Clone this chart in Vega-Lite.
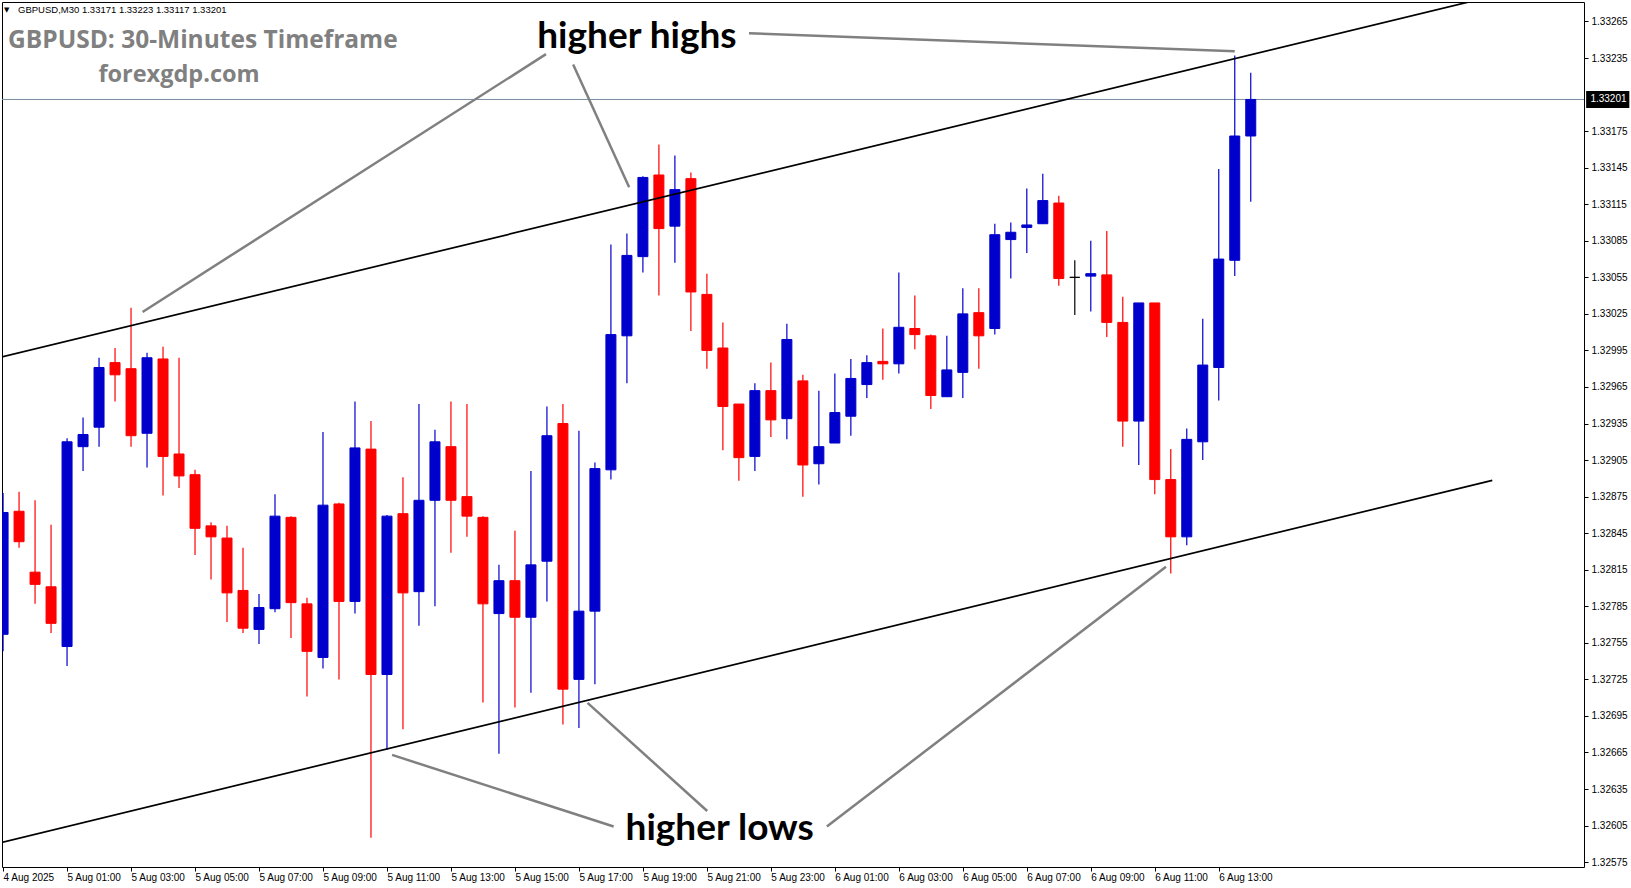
{
  "$schema": "https://vega.github.io/schema/vega-lite/v6.json",
  "width": 1582,
  "height": 865,
  "autosize": {"type": "none"},
  "padding": {"left": 2, "top": 2, "right": 47, "bottom": 21},
  "background": "#ffffff",
  "config": {
    "view": {"stroke": "#000000", "strokeWidth": 1},
    "axis": {"domain": false, "grid": false, "tickColor": "#000000", "labelColor": "#000000", "labelFont": "Liberation Sans", "labelFontSize": 10, "title": null, "labelOverlap": false},
    "axisY": {"labelOverlap": false, "labelBound": false, "labelFlush": false}
  },
  "resolve": {"scale": {"y": "shared"}, "axis": {"y": "independent"}},
  "datasets": {
    "candles": [
      {"t":"2025-08-04T23:00:00Z","o":1.32762,"h":1.32878,"l":1.32748,"c":1.32862},
      {"t":"2025-08-04T23:30:00Z","o":1.32863,"h":1.32879,"l":1.32833,"c":1.32838},
      {"t":"2025-08-05T00:00:00Z","o":1.32813,"h":1.32872,"l":1.32787,"c":1.32803},
      {"t":"2025-08-05T00:30:00Z","o":1.32801,"h":1.32852,"l":1.32763,"c":1.32771},
      {"t":"2025-08-05T01:00:00Z","o":1.32752,"h":1.32923,"l":1.32736,"c":1.32920},
      {"t":"2025-08-05T01:30:00Z","o":1.32916,"h":1.32940,"l":1.32896,"c":1.32926},
      {"t":"2025-08-05T02:00:00Z","o":1.32932,"h":1.32989,"l":1.32916,"c":1.32981},
      {"t":"2025-08-05T02:30:00Z","o":1.32985,"h":1.32997,"l":1.32953,"c":1.32975},
      {"t":"2025-08-05T03:00:00Z","o":1.32980,"h":1.33030,"l":1.32916,"c":1.32925},
      {"t":"2025-08-05T03:30:00Z","o":1.32927,"h":1.32993,"l":1.32899,"c":1.32989},
      {"t":"2025-08-05T04:00:00Z","o":1.32988,"h":1.32998,"l":1.32876,"c":1.32908},
      {"t":"2025-08-05T04:30:00Z","o":1.32910,"h":1.32989,"l":1.32882,"c":1.32892},
      {"t":"2025-08-05T05:00:00Z","o":1.32893,"h":1.32897,"l":1.32827,"c":1.32849},
      {"t":"2025-08-05T05:30:00Z","o":1.32851,"h":1.32854,"l":1.32807,"c":1.32842},
      {"t":"2025-08-05T06:00:00Z","o":1.32841,"h":1.32851,"l":1.32772,"c":1.32796},
      {"t":"2025-08-05T06:30:00Z","o":1.32798,"h":1.32833,"l":1.32763,"c":1.32767},
      {"t":"2025-08-05T07:00:00Z","o":1.32766,"h":1.32795,"l":1.32754,"c":1.32784},
      {"t":"2025-08-05T07:30:00Z","o":1.32783,"h":1.32877,"l":1.32780,"c":1.32859},
      {"t":"2025-08-05T08:00:00Z","o":1.32858,"h":1.32859,"l":1.32759,"c":1.32788},
      {"t":"2025-08-05T08:30:00Z","o":1.32787,"h":1.32792,"l":1.32711,"c":1.32748},
      {"t":"2025-08-05T09:00:00Z","o":1.32743,"h":1.32928,"l":1.32734,"c":1.32868},
      {"t":"2025-08-05T09:30:00Z","o":1.32869,"h":1.32870,"l":1.32725,"c":1.32789},
      {"t":"2025-08-05T10:00:00Z","o":1.32789,"h":1.32953,"l":1.32779,"c":1.32915},
      {"t":"2025-08-05T10:30:00Z","o":1.32914,"h":1.32937,"l":1.32595,"c":1.32729},
      {"t":"2025-08-05T11:00:00Z","o":1.32729,"h":1.32860,"l":1.32667,"c":1.32859},
      {"t":"2025-08-05T11:30:00Z","o":1.32861,"h":1.32891,"l":1.32684,"c":1.32796},
      {"t":"2025-08-05T12:00:00Z","o":1.32797,"h":1.32951,"l":1.32769,"c":1.32872},
      {"t":"2025-08-05T12:30:00Z","o":1.32872,"h":1.32930,"l":1.32785,"c":1.32920},
      {"t":"2025-08-05T13:00:00Z","o":1.32916,"h":1.32953,"l":1.32829,"c":1.32872},
      {"t":"2025-08-05T13:30:00Z","o":1.32875,"h":1.32951,"l":1.32842,"c":1.32859},
      {"t":"2025-08-05T14:00:00Z","o":1.32858,"h":1.32859,"l":1.32706,"c":1.32787},
      {"t":"2025-08-05T14:30:00Z","o":1.32779,"h":1.32819,"l":1.32664,"c":1.32806},
      {"t":"2025-08-05T15:00:00Z","o":1.32806,"h":1.32847,"l":1.32702,"c":1.32776},
      {"t":"2025-08-05T15:30:00Z","o":1.32776,"h":1.32896,"l":1.32714,"c":1.32819},
      {"t":"2025-08-05T16:00:00Z","o":1.32822,"h":1.32949,"l":1.32789,"c":1.32925},
      {"t":"2025-08-05T16:30:00Z","o":1.32935,"h":1.32951,"l":1.32688,"c":1.32717},
      {"t":"2025-08-05T17:00:00Z","o":1.32725,"h":1.32929,"l":1.32685,"c":1.32781},
      {"t":"2025-08-05T17:30:00Z","o":1.32781,"h":1.32903,"l":1.32721,"c":1.32898},
      {"t":"2025-08-05T18:00:00Z","o":1.32897,"h":1.33082,"l":1.32889,"c":1.33008},
      {"t":"2025-08-05T18:30:00Z","o":1.33007,"h":1.33091,"l":1.32968,"c":1.33073},
      {"t":"2025-08-05T19:00:00Z","o":1.33072,"h":1.33138,"l":1.33059,"c":1.33137},
      {"t":"2025-08-05T19:30:00Z","o":1.33139,"h":1.33164,"l":1.33040,"c":1.33095},
      {"t":"2025-08-05T20:00:00Z","o":1.33097,"h":1.33155,"l":1.33067,"c":1.33127},
      {"t":"2025-08-05T20:30:00Z","o":1.33136,"h":1.33141,"l":1.33011,"c":1.33043},
      {"t":"2025-08-05T21:00:00Z","o":1.33041,"h":1.33058,"l":1.32980,"c":1.32995},
      {"t":"2025-08-05T21:30:00Z","o":1.32997,"h":1.33018,"l":1.32913,"c":1.32949},
      {"t":"2025-08-05T22:00:00Z","o":1.32951,"h":1.32951,"l":1.32888,"c":1.32907},
      {"t":"2025-08-05T22:30:00Z","o":1.32908,"h":1.32968,"l":1.32896,"c":1.32962},
      {"t":"2025-08-05T23:00:00Z","o":1.32962,"h":1.32985,"l":1.32924,"c":1.32938},
      {"t":"2025-08-05T23:30:00Z","o":1.32939,"h":1.33017,"l":1.32922,"c":1.33004},
      {"t":"2025-08-06T00:00:00Z","o":1.32970,"h":1.32975,"l":1.32875,"c":1.32901},
      {"t":"2025-08-06T00:30:00Z","o":1.32902,"h":1.32962,"l":1.32885,"c":1.32916},
      {"t":"2025-08-06T01:00:00Z","o":1.32919,"h":1.32976,"l":1.32919,"c":1.32944},
      {"t":"2025-08-06T01:30:00Z","o":1.32941,"h":1.32988,"l":1.32925,"c":1.32972},
      {"t":"2025-08-06T02:00:00Z","o":1.32967,"h":1.32991,"l":1.32956,"c":1.32985},
      {"t":"2025-08-06T02:30:00Z","o":1.32986,"h":1.33013,"l":1.32971,"c":1.32984},
      {"t":"2025-08-06T03:00:00Z","o":1.32984,"h":1.33059,"l":1.32976,"c":1.33014},
      {"t":"2025-08-06T03:30:00Z","o":1.33013,"h":1.33040,"l":1.32996,"c":1.33008},
      {"t":"2025-08-06T04:00:00Z","o":1.33007,"h":1.33008,"l":1.32947,"c":1.32958},
      {"t":"2025-08-06T04:30:00Z","o":1.32957,"h":1.33007,"l":1.32957,"c":1.32979},
      {"t":"2025-08-06T05:00:00Z","o":1.32977,"h":1.33046,"l":1.32956,"c":1.33025},
      {"t":"2025-08-06T05:30:00Z","o":1.33026,"h":1.33046,"l":1.32980,"c":1.33007},
      {"t":"2025-08-06T06:00:00Z","o":1.33013,"h":1.33099,"l":1.33008,"c":1.33090},
      {"t":"2025-08-06T06:30:00Z","o":1.33086,"h":1.33100,"l":1.33054,"c":1.33092},
      {"t":"2025-08-06T07:00:00Z","o":1.33096,"h":1.33128,"l":1.33075,"c":1.33098},
      {"t":"2025-08-06T07:30:00Z","o":1.33099,"h":1.33140,"l":1.33099,"c":1.33118},
      {"t":"2025-08-06T08:00:00Z","o":1.33116,"h":1.33122,"l":1.33048,"c":1.33054},
      {"t":"2025-08-06T08:30:00Z","o":1.33055,"h":1.33069,"l":1.33024,"c":1.33055},
      {"t":"2025-08-06T09:00:00Z","o":1.33056,"h":1.33085,"l":1.33027,"c":1.33058},
      {"t":"2025-08-06T09:30:00Z","o":1.33057,"h":1.33093,"l":1.33006,"c":1.33018},
      {"t":"2025-08-06T10:00:00Z","o":1.33018,"h":1.33039,"l":1.32916,"c":1.32937},
      {"t":"2025-08-06T10:30:00Z","o":1.32937,"h":1.33034,"l":1.32901,"c":1.33034},
      {"t":"2025-08-06T11:00:00Z","o":1.33034,"h":1.33034,"l":1.32877,"c":1.32889},
      {"t":"2025-08-06T11:30:00Z","o":1.32889,"h":1.32914,"l":1.32812,"c":1.32842},
      {"t":"2025-08-06T12:00:00Z","o":1.32842,"h":1.32931,"l":1.32835,"c":1.32922},
      {"t":"2025-08-06T12:30:00Z","o":1.32920,"h":1.33021,"l":1.32905,"c":1.32983},
      {"t":"2025-08-06T13:00:00Z","o":1.32981,"h":1.33144,"l":1.32954,"c":1.33070},
      {"t":"2025-08-06T13:30:00Z","o":1.33069,"h":1.33237,"l":1.33056,"c":1.33171},
      {"t":"2025-08-06T14:00:00Z","o":1.33171,"h":1.33223,"l":1.33117,"c":1.33201}
    ],
    "trend": [
      {"line":"upper","t":"2025-08-04T22:30:00Z","p":1.329867},
      {"line":"upper","t":"2025-08-07T01:00:00Z","p":1.333076},
      {"line":"lower","t":"2025-08-04T22:30:00Z","p":1.325882},
      {"line":"lower","t":"2025-08-06T21:33:00Z","p":1.328883}
    ],
    "pointers": [
      {"id":"hh1","t":"2025-08-05T15:58:12Z","p":1.332382},
      {"id":"hh1","t":"2025-08-05T03:21:36Z","p":1.330266},
      {"id":"hh2","t":"2025-08-05T16:49:12Z","p":1.332297},
      {"id":"hh2","t":"2025-08-05T18:34:12Z","p":1.33129},
      {"id":"hh3","t":"2025-08-05T22:18:54Z","p":1.332553},
      {"id":"hh3","t":"2025-08-06T13:30:00Z","p":1.332405},
      {"id":"hl1","t":"2025-08-05T18:05:06Z","p":1.326042},
      {"id":"hl1","t":"2025-08-05T11:09:36Z","p":1.32663},
      {"id":"hl2","t":"2025-08-05T21:00:36Z","p":1.32617},
      {"id":"hl2","t":"2025-08-05T17:16:12Z","p":1.327057},
      {"id":"hl3","t":"2025-08-06T00:45:00Z","p":1.326042},
      {"id":"hl3","t":"2025-08-06T11:21:00Z","p":1.328175}
    ]
  },
  "encoding": {
    "x": {
      "field": "t", "type": "temporal",
      "scale": {"type": "utc", "padding": 0, "domain": [
        {"year": 2025, "month": 8, "date": 4, "hours": 22, "minutes": 58, "utc": true},
        {"year": 2025, "month": 8, "date": 7, "hours": 0, "minutes": 25, "utc": true}
      ]},
      "axis": {
        "orient": "bottom",
        "values": [
          {"year": 2025, "month": 8, "date": 4, "hours": 23, "utc": true},
          {"year": 2025, "month": 8, "date": 5, "hours": 1, "utc": true},
          {"year": 2025, "month": 8, "date": 5, "hours": 3, "utc": true},
          {"year": 2025, "month": 8, "date": 5, "hours": 5, "utc": true},
          {"year": 2025, "month": 8, "date": 5, "hours": 7, "utc": true},
          {"year": 2025, "month": 8, "date": 5, "hours": 9, "utc": true},
          {"year": 2025, "month": 8, "date": 5, "hours": 11, "utc": true},
          {"year": 2025, "month": 8, "date": 5, "hours": 13, "utc": true},
          {"year": 2025, "month": 8, "date": 5, "hours": 15, "utc": true},
          {"year": 2025, "month": 8, "date": 5, "hours": 17, "utc": true},
          {"year": 2025, "month": 8, "date": 5, "hours": 19, "utc": true},
          {"year": 2025, "month": 8, "date": 5, "hours": 21, "utc": true},
          {"year": 2025, "month": 8, "date": 5, "hours": 23, "utc": true},
          {"year": 2025, "month": 8, "date": 6, "hours": 1, "utc": true},
          {"year": 2025, "month": 8, "date": 6, "hours": 3, "utc": true},
          {"year": 2025, "month": 8, "date": 6, "hours": 5, "utc": true},
          {"year": 2025, "month": 8, "date": 6, "hours": 7, "utc": true},
          {"year": 2025, "month": 8, "date": 6, "hours": 9, "utc": true},
          {"year": 2025, "month": 8, "date": 6, "hours": 11, "utc": true},
          {"year": 2025, "month": 8, "date": 6, "hours": 13, "utc": true}
        ],
        "labelExpr": "utcdate(datum.value) == 4 ? '4 Aug 2025' : utcFormat(datum.value, '%-d %b %H:%M')",
        "labelAlign": "left", "labelBaseline": "top", "labelPadding": 1, "tickSize": 4,
        "labelOverlap": false, "labelFlush": false, "labelBound": false
      }
    }
  },
  "layer": [
    {
      "data": {"values": [{"p": 1.33201}]},
      "mark": {"type": "rule", "color": "#7a8aa0", "strokeWidth": 1},
      "encoding": {
        "x": null,
        "y": {"field": "p", "type": "quantitative",
          "scale": {"domain": [1.32571, 1.33281], "nice": false, "zero": false},
          "axis": {"orient": "right", "format": ".5f", "tickSize": 4, "labelPadding": 3, "labelBaseline": "middle",
            "labelOverlap": false, "labelFlush": false, "labelBound": false,
            "values": [1.32575,1.32605,1.32635,1.32665,1.32695,1.32725,1.32755,1.32785,1.32815,1.32845,1.32875,1.32905,1.32935,1.32965,1.32995,1.33025,1.33055,1.33085,1.33115,1.33145,1.33175,1.33235,1.33265]}
        }
      }
    },
    {
      "data": {"name": "candles"},
      "mark": {"type": "rule", "strokeWidth": 1.2, "clip": true},
      "encoding": {
        "y": {"field": "l", "type": "quantitative", "axis": null},
        "y2": {"field": "h"},
        "color": {"condition": [{"test": "datum.c > datum.o", "value": "#0000CC"}, {"test": "datum.c < datum.o", "value": "#FF0000"}], "value": "#000000"}
      }
    },
    {
      "data": {"name": "candles"},
      "mark": {"type": "bar", "width": 10, "strokeWidth": 1, "clip": true},
      "encoding": {
        "y": {"field": "o", "type": "quantitative", "axis": null},
        "y2": {"field": "c"},
        "fill": {"condition": [{"test": "datum.c > datum.o", "value": "#0000CC"}, {"test": "datum.c < datum.o", "value": "#FF0000"}], "value": "#000000"},
        "stroke": {"condition": [{"test": "datum.c > datum.o", "value": "#0000CC"}, {"test": "datum.c < datum.o", "value": "#FF0000"}], "value": "#000000"}
      }
    },
    {
      "data": {"name": "trend"},
      "mark": {"type": "line", "color": "#000000", "strokeWidth": 1.7, "clip": true},
      "encoding": {
        "y": {"field": "p", "type": "quantitative", "axis": null},
        "detail": {"field": "line"}
      }
    },
    {
      "data": {"name": "pointers"},
      "mark": {"type": "line", "color": "#808080", "strokeWidth": 2.5, "clip": true},
      "encoding": {
        "y": {"field": "p", "type": "quantitative", "axis": null},
        "detail": {"field": "id"}
      }
    },
    {
      "data": {"values": [
        {"t": "2025-08-05T18:48:45Z", "p": 1.332434, "label": "higher highs"},
        {"t": "2025-08-05T21:24:00Z", "p": 1.325932, "label": "higher lows"}
      ]},
      "mark": {"type": "text", "font": "Lato", "fontWeight": "bold", "fontSize": 37, "color": "#000000", "align": "center", "baseline": "alphabetic"},
      "encoding": {
        "y": {"field": "p", "type": "quantitative", "axis": null},
        "text": {"field": "label"}
      }
    },
    {
      "data": {"values": [
        {"t": "2025-08-04T23:09:22Z", "p": 1.332432, "label": "GBPUSD: 30-Minutes Timeframe"}
      ]},
      "mark": {"type": "text", "font": "Open Sans", "fontWeight": "bold", "fontSize": 24.5, "color": "#808080", "align": "left", "baseline": "alphabetic"},
      "encoding": {
        "y": {"field": "p", "type": "quantitative", "axis": null},
        "text": {"field": "label"}
      }
    },
    {
      "data": {"values": [
        {"t": "2025-08-05T04:30:00Z", "p": 1.332157, "label": "forexgdp.com"}
      ]},
      "mark": {"type": "text", "font": "Open Sans", "fontWeight": "bold", "fontSize": 23.5, "color": "#808080", "align": "center", "baseline": "alphabetic"},
      "encoding": {
        "y": {"field": "p", "type": "quantitative", "axis": null},
        "text": {"field": "label"}
      }
    },
    {
      "data": {"values": [
        {"t": "2025-08-04T23:28:07Z", "p": 1.332744, "label": "GBPUSD,M30  1.33171 1.33223 1.33117 1.33201"}
      ]},
      "mark": {"type": "text", "font": "Liberation Sans", "fontSize": 9.5, "color": "#000000", "align": "left", "baseline": "middle"},
      "encoding": {
        "y": {"field": "p", "type": "quantitative", "axis": null},
        "text": {"field": "label"}
      }
    },
    {
      "data": {"values": [
        {"t": "2025-08-04T23:06:36Z", "p": 1.332744, "label": "▼"}
      ]},
      "mark": {"type": "text", "font": "DejaVu Sans", "fontSize": 7, "color": "#000000", "align": "center", "baseline": "middle"},
      "encoding": {
        "y": {"field": "p", "type": "quantitative", "axis": null},
        "text": {"field": "label"}
      }
    },
    {
      "data": {"values": [
        {"t": "2025-08-07T00:29:00Z", "t2": "2025-08-07T01:50:00Z", "p": 1.33194, "p2": 1.33208}
      ]},
      "mark": {"type": "rect", "color": "#000000", "clip": false},
      "encoding": {
        "x2": {"field": "t2"},
        "y": {"field": "p", "type": "quantitative", "axis": null},
        "y2": {"field": "p2"}
      }
    },
    {
      "data": {"values": [
        {"t": "2025-08-07T00:37:00Z", "p": 1.33201, "label": "1.33201"}
      ]},
      "mark": {"type": "text", "font": "Liberation Sans", "fontSize": 10, "color": "#ffffff", "align": "left", "baseline": "middle", "clip": false},
      "encoding": {
        "y": {"field": "p", "type": "quantitative", "axis": null},
        "text": {"field": "label"}
      }
    }
  ]
}
